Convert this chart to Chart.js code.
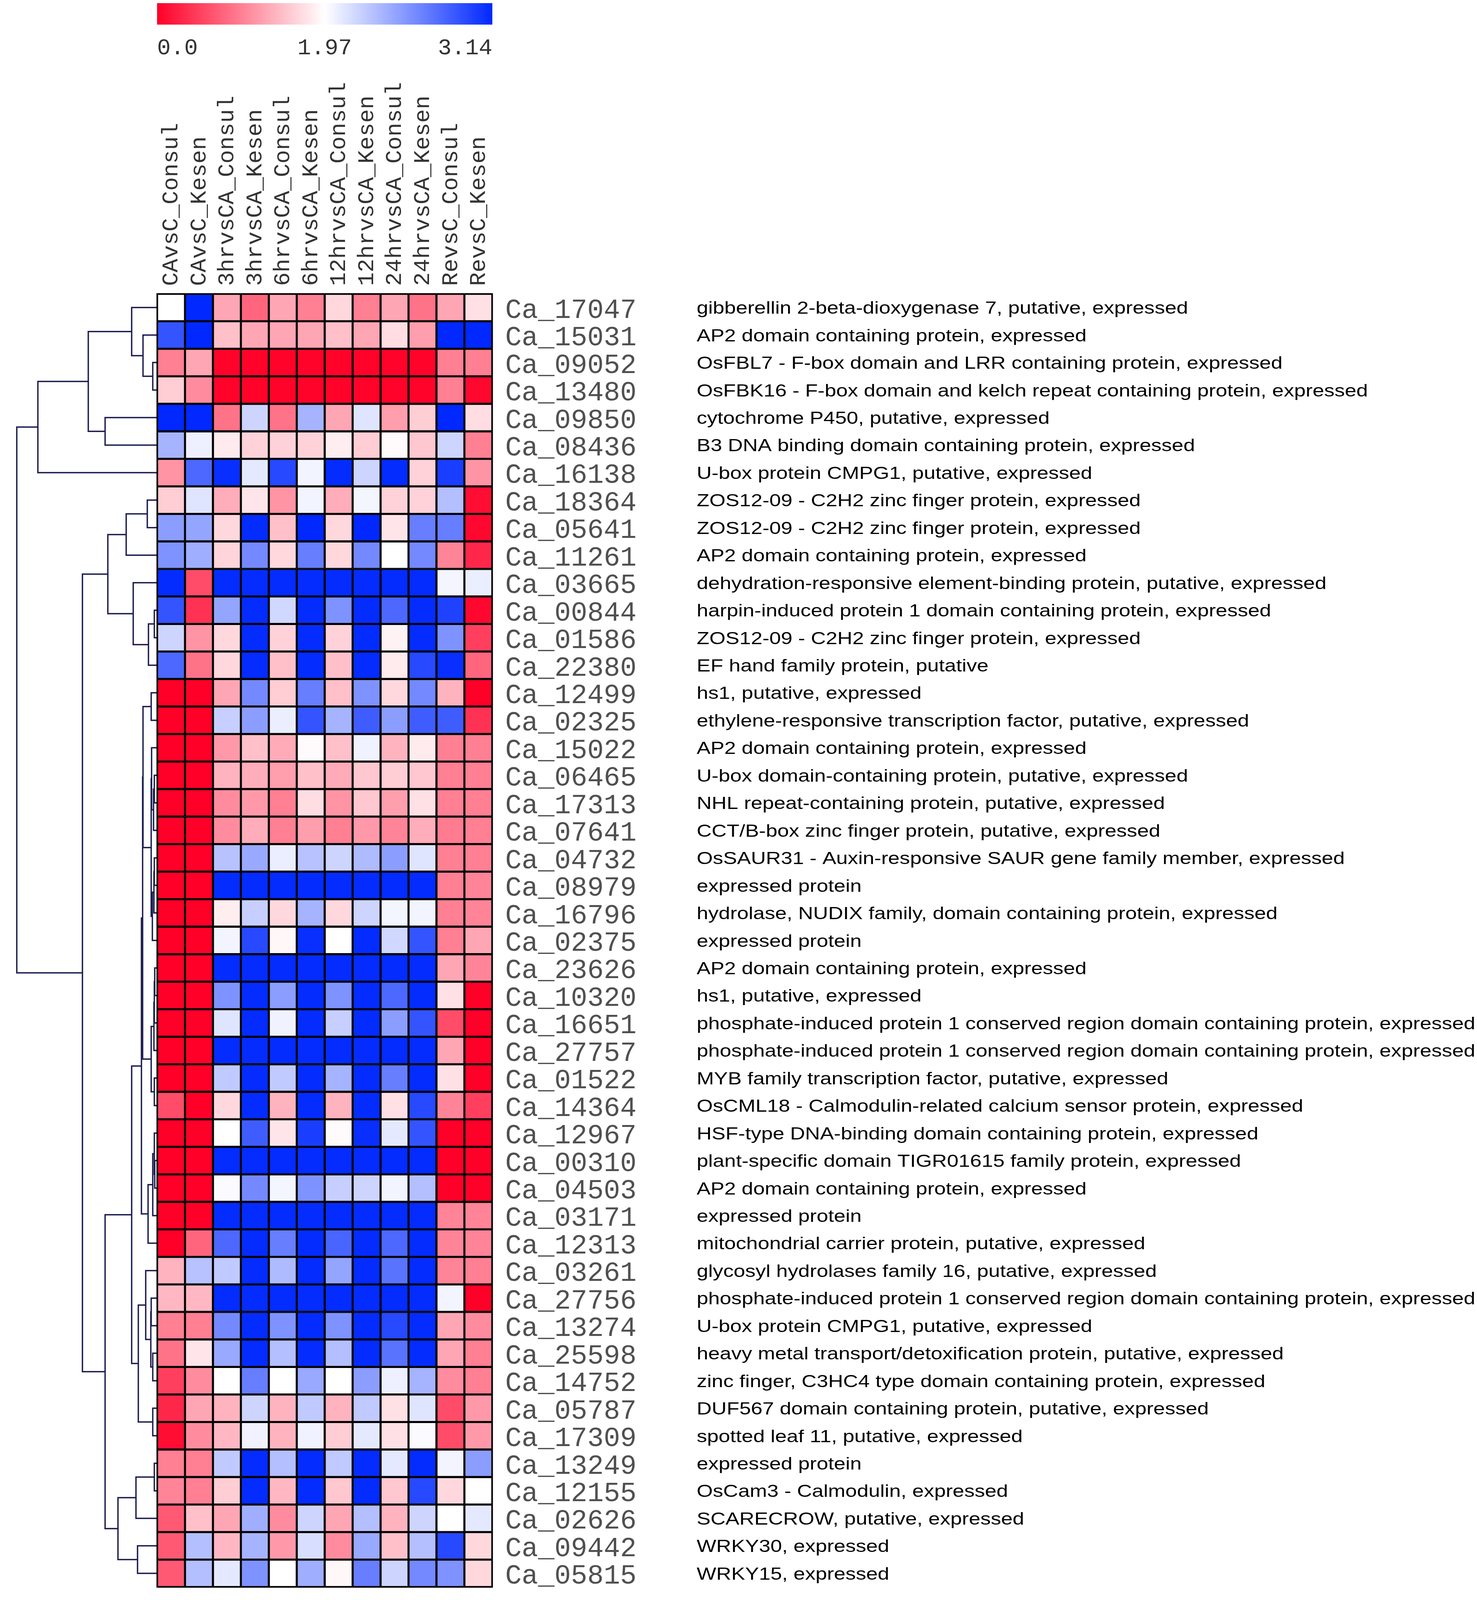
<!DOCTYPE html>
<html>
<head>
<meta charset="utf-8">
<script src="https://cdn.jsdelivr.net/npm/chart.js@4.4.1/dist/chart.umd.min.js"></script>
<style>
html,body{margin:0;padding:0;background:#ffffff;}
canvas{display:block;}
</style>
</head>
<body>
<canvas id="heat" width="3780" height="4138" style="width:3780px;height:4138px"></canvas>
<script>
// ---------------- data ----------------
const columns = ['CAvsC_Consul','CAvsC_Kesen','3hrvsCA_Consul','3hrvsCA_Kesen','6hrvsCA_Consul','6hrvsCA_Kesen',
  '12hrvsCA_Consul','12hrvsCA_Kesen','24hrvsCA_Consul','24hrvsCA_Kesen','RevsC_Consul','RevsC_Kesen'];

const geneIds = ['Ca_17047','Ca_15031','Ca_09052','Ca_13480','Ca_09850','Ca_08436','Ca_16138','Ca_18364','Ca_05641',
  'Ca_11261','Ca_03665','Ca_00844','Ca_01586','Ca_22380','Ca_12499','Ca_02325','Ca_15022','Ca_06465','Ca_17313',
  'Ca_07641','Ca_04732','Ca_08979','Ca_16796','Ca_02375','Ca_23626','Ca_10320','Ca_16651','Ca_27757','Ca_01522',
  'Ca_14364','Ca_12967','Ca_00310','Ca_04503','Ca_03171','Ca_12313','Ca_03261','Ca_27756','Ca_13274','Ca_25598',
  'Ca_14752','Ca_05787','Ca_17309','Ca_13249','Ca_12155','Ca_02626','Ca_09442','Ca_05815'];

const descriptions = [
  'gibberellin 2-beta-dioxygenase 7, putative, expressed',
  'AP2 domain containing protein, expressed',
  'OsFBL7 - F-box domain and LRR containing protein, expressed',
  'OsFBK16 - F-box domain and kelch repeat containing protein, expressed',
  'cytochrome P450, putative, expressed',
  'B3 DNA binding domain containing protein, expressed',
  'U-box protein CMPG1, putative, expressed',
  'ZOS12-09 - C2H2 zinc finger protein, expressed',
  'ZOS12-09 - C2H2 zinc finger protein, expressed',
  'AP2 domain containing protein, expressed',
  'dehydration-responsive element-binding protein, putative, expressed',
  'harpin-induced protein 1 domain containing protein, expressed',
  'ZOS12-09 - C2H2 zinc finger protein, expressed',
  'EF hand family protein, putative',
  'hs1, putative, expressed',
  'ethylene-responsive transcription factor, putative, expressed',
  'AP2 domain containing protein, expressed',
  'U-box domain-containing protein, putative, expressed',
  'NHL repeat-containing protein, putative, expressed',
  'CCT/B-box zinc finger protein, putative, expressed',
  'OsSAUR31 - Auxin-responsive SAUR gene family member, expressed',
  'expressed protein',
  'hydrolase, NUDIX family, domain containing protein, expressed',
  'expressed protein',
  'AP2 domain containing protein, expressed',
  'hs1, putative, expressed',
  'phosphate-induced protein 1 conserved region domain containing protein, expressed',
  'phosphate-induced protein 1 conserved region domain containing protein, expressed',
  'MYB family transcription factor, putative, expressed',
  'OsCML18 - Calmodulin-related calcium sensor protein, expressed',
  'HSF-type DNA-binding domain containing protein, expressed',
  'plant-specific domain TIGR01615 family protein, expressed',
  'AP2 domain containing protein, expressed',
  'expressed protein',
  'mitochondrial carrier protein, putative, expressed',
  'glycosyl hydrolases family 16, putative, expressed',
  'phosphate-induced protein 1 conserved region domain containing protein, expressed',
  'U-box protein CMPG1, putative, expressed',
  'heavy metal transport/detoxification protein, putative, expressed',
  'zinc finger, C3HC4 type domain containing protein, expressed',
  'DUF567 domain containing protein, putative, expressed',
  'spotted leaf 11, putative, expressed',
  'expressed protein',
  'OsCam3 - Calmodulin, expressed',
  'SCARECROW, putative, expressed',
  'WRKY30, expressed',
  'WRKY15, expressed'
];

// one series per column, one value per gene (top to bottom)
const CAvsC_Consul = [1.97,2.90,0.98,1.58,3.14,2.38,1.14,1.58,2.50,2.56,3.12,2.90,2.20,2.79,
  0,0,0,0,0,0,0,0,0,0,0,0,0,0,0,0.59,0,0,0,0,0,
  1.38,1.42,0.98,0.89,0.49,0.30,0.10,0.98,1.02,0.69,0.69,0.69];
const CAvsC_Kesen = [3.14,3.14,1.28,1.08,3.14,2.05,2.79,2.11,2.46,2.41,0.59,0.39,1.14,0.89,
  0,0,0,0,0,0,0,0,0,0,0,0,0,0,0,0,0,0,0,0,0.79,
  2.30,1.42,0.98,1.77,1.08,1.28,1.08,0.98,0.98,1.48,2.32,2.32];
const hr3_Consul = [1.28,1.48,0.02,0.02,0.89,1.81,3.10,1.34,1.67,1.64,3.12,2.46,1.67,1.67,1.28,2.23,1.18,1.38,1.08,1.08,
  2.30,3.12,1.83,2.03,3.12,2.56,2.11,3.12,2.26,1.67,1.97,3.12,1.99,3.12,2.79,2.26,3.12,2.61,2.44,1.97,1.38,1.42,
  2.26,1.58,1.28,1.42,2.09];
const hr3_Kesen = [0.79,1.28,0.02,0.02,2.20,1.62,2.09,1.77,3.12,2.61,3.12,3.12,3.12,3.12,2.61,2.50,1.48,1.34,1.18,1.34,
  2.44,3.12,2.23,2.96,3.12,3.12,3.12,3.12,3.12,3.12,2.85,3.12,2.61,3.12,3.12,3.12,3.12,3.12,3.12,2.67,2.20,2.04,
  3.12,3.12,2.41,2.38,2.56];
const hr6_Consul = [1.28,1.28,0.02,0.02,0.89,1.62,2.96,1.14,1.48,1.67,3.12,2.18,1.62,1.48,1.58,2.06,1.32,1.22,0.98,0.98,
  2.06,3.12,1.67,1.91,3.12,2.50,2.04,3.12,2.26,1.38,1.77,3.12,2.02,3.12,2.67,2.34,3.12,2.56,2.32,1.97,1.38,1.38,
  2.32,1.42,1.08,1.18,1.97];
const hr6_Kesen = [0.98,1.28,0.02,0.02,2.38,1.62,2.03,2.03,3.14,2.67,3.12,3.12,3.12,3.12,2.67,2.90,1.93,1.48,1.71,1.22,
  2.30,3.12,2.38,3.10,3.12,3.12,3.12,3.12,3.12,3.12,3.02,3.12,2.56,3.12,3.12,3.12,3.12,3.12,3.12,2.44,2.26,2.04,
  3.12,3.12,2.20,2.15,2.41];
const hr12_Consul = [1.67,1.48,0.02,0.02,1.28,1.83,3.12,1.34,1.67,1.67,3.12,2.56,1.62,1.48,1.48,2.38,1.48,1.32,1.14,0.98,
  2.20,3.12,1.67,1.97,3.12,2.56,2.23,3.12,2.38,1.38,1.94,3.12,2.23,3.12,2.81,2.46,3.12,2.56,2.32,1.97,1.38,1.58,
  2.26,1.54,1.28,1.08,1.91];
const hr12_Kesen = [0.98,1.28,0.02,0.02,2.11,1.58,2.20,2.02,3.14,2.61,3.12,3.12,3.12,3.12,2.56,2.85,2.04,1.54,1.54,1.18,
  2.34,3.12,2.20,3.12,3.12,3.12,3.12,3.12,3.12,3.12,3.10,3.12,2.20,3.12,3.12,3.12,3.12,3.12,3.12,2.50,2.26,2.09,
  3.12,3.12,2.32,2.44,2.67];
const hr24_Consul = [1.28,1.71,0.02,0.02,1.22,1.93,3.12,1.62,1.77,1.97,3.12,2.79,1.87,1.81,1.67,2.50,1.38,1.58,1.22,1.02,
  2.50,3.12,2.02,2.18,3.12,2.79,2.50,3.12,2.67,1.73,2.09,3.12,2.03,3.12,2.79,2.73,3.12,2.96,2.73,2.05,1.73,1.73,
  2.09,1.54,1.38,1.48,2.20];
const hr24_Kesen = [0.89,1.22,0.02,0.02,1.58,1.54,1.62,1.62,2.67,2.61,3.12,3.12,3.12,2.96,2.61,2.85,1.81,1.54,1.73,1.34,
  2.11,3.12,2.03,2.90,3.12,3.12,2.90,3.12,3.12,2.96,2.90,3.12,2.32,3.12,3.12,3.12,3.12,3.12,3.12,2.38,2.11,1.99,
  3.12,2.96,2.20,2.32,2.61];
const RevsC_Consul = [1.28,3.14,0.98,0.98,3.14,2.20,3.02,2.32,2.67,1.02,2.02,3.00,2.56,3.10,1.38,2.85,0.98,0.98,0.98,0.95,
  0.98,0.98,0.98,0.98,1.28,1.73,0.59,1.28,1.73,1.02,0.00,0.00,0.00,1.02,1.02,1.02,2.03,1.28,1.28,1.08,0.59,0.59,
  2.03,1.67,1.97,2.96,2.56];
const RevsC_Kesen = [1.73,3.14,0.98,0.06,1.71,0.98,1.14,0.10,0.06,0.30,2.06,0.06,0.49,0.79,0.00,0.39,0.98,0.98,0.98,0.98,
  0.98,1.02,1.02,1.28,1.02,0.00,0.00,0.00,0.00,0.49,0.00,0.00,0.00,1.02,1.02,0.98,0.00,1.08,0.98,0.98,1.18,1.18,
  2.50,1.97,2.09,1.67,1.67];

// colour scale
const scaleStops = [0.0, 1.97, 3.14];
const scaleLabels = ['0.0', '1.97', '3.14'];

// row dendrogram: [childA, childB, height]; children < 47 are genes, otherwise node (47 + merge index)
const linkage = [
  [2,3,0.154],[1,47,0.503],[0,48,0.909],[4,5,1.860],[49,50,2.462],[51,6,4.266],
  [7,8,0.350],[53,9,1.105],[11,12,0.098],[55,13,0.308],[10,56,0.853],[54,57,1.762],
  [14,15,0.210],[17,18,0.098],[60,19,0.126],[16,61,0.196],[20,21,0.098],[63,22,0.112],[64,23,0.168],
  [62,65,0.210],[59,66,0.503],[24,25,0.084],[68,26,0.098],[69,27,0.112],[28,29,0.098],[70,71,0.210],
  [67,72,0.517],[31,32,0.084],[30,74,0.098],[75,33,0.154],[76,34,0.322],[73,77,0.559],
  [36,37,0.210],[38,39,0.154],[79,80,0.224],[35,81,0.406],[40,41,0.154],[82,83,0.671],[78,84,0.909],
  [42,43,0.098],[86,44,0.755],[45,46,0.699],[87,88,1.399],[85,89,1.860],[58,90,2.671],[52,91,5.021]
];

// ---------------- chart ----------------
const seriesByColumn = [CAvsC_Consul, CAvsC_Kesen, hr3_Consul, hr3_Kesen, hr6_Consul, hr6_Kesen,
  hr12_Consul, hr12_Kesen, hr24_Consul, hr24_Kesen, RevsC_Consul, RevsC_Kesen];

const RED = [255, 0, 40], BLUE = [0, 40, 255], WHITE = [255, 255, 255];
function mix(a, b, t) { return a.map((v, i) => Math.round(v + (b[i] - v) * t)); }
function cellColor(v) {
  const [lo, mid, hi] = scaleStops;
  let c;
  if (v <= mid) c = mix(WHITE, RED, Math.min(1, (mid - v) / (mid - lo)));
  else c = mix(WHITE, BLUE, Math.min(1, (v - mid) / (hi - mid)));
  return 'rgb(' + c.join(',') + ')';
}

const datasets = seriesByColumn.map((vals, c) => ({
  label: columns[c],
  data: vals.map(() => [c, c + 1]),
  backgroundColor: vals.map(cellColor),
  borderColor: '#000000',
  borderWidth: 3,
  borderSkipped: false,
  grouped: false,
  categoryPercentage: 1,
  barPercentage: 1,
  xAxisID: 'x',
  yAxisID: 'y'
}));

const dendroPlugin = {
  id: 'dendro',
  afterDatasetsDraw(chart) {
    const { ctx, scales: { x, y } } = chart;
    const n = geneIds.length;
    const pos = [];
    for (let i = 0; i < n; i++) pos[i] = { r: i, h: 0 };
    ctx.save();
    ctx.strokeStyle = '#1c1c50';
    ctx.lineWidth = 3.5;
    linkage.forEach(([a, b, h], k) => {
      const A = pos[a], B = pos[b];
      const xp = x.getPixelForValue(-h);
      const ya = y.getPixelForValue(A.r), yb = y.getPixelForValue(B.r);
      ctx.beginPath();
      ctx.moveTo(x.getPixelForValue(-A.h), ya);
      ctx.lineTo(xp, ya);
      ctx.lineTo(xp, yb);
      ctx.lineTo(x.getPixelForValue(-B.h), yb);
      ctx.stroke();
      pos[n + k] = { r: (A.r + B.r) / 2, h: h };
    });
    // outer frame of the heat map
    const x0 = x.getPixelForValue(0), x1 = x.getPixelForValue(columns.length);
    const area = chart.chartArea;
    ctx.strokeStyle = '#000000';
    ctx.lineWidth = 3;
    ctx.strokeRect(x0, area.top, x1 - x0, area.bottom - area.top);
    ctx.restore();
  }
};

// gene descriptions: drawn at the y2 axis tick positions, slightly widened like the original lettering
const descriptionPlugin = {
  id: 'descriptions',
  afterDraw(chart) {
    const { ctx, scales: { y2 } } = chart;
    ctx.save();
    ctx.fillStyle = '#000000';
    ctx.font = '45px "Liberation Sans"';
    ctx.textAlign = 'left';
    ctx.textBaseline = 'alphabetic';
    descriptions.forEach((d, i) => {
      const py = y2.getPixelForTick(i);
      ctx.save();
      ctx.translate(y2.left, py + 16);
      ctx.scale(1.18, 1);
      ctx.fillText(d, 0, 0);
      ctx.restore();
    });
    ctx.restore();
  }
};

const colorBarPlugin = {
  id: 'colorbar',
  afterDraw(chart) {
    const { ctx, scales: { x } } = chart;
    const x0 = x.getPixelForValue(0), x1 = x.getPixelForValue(columns.length);
    const g = ctx.createLinearGradient(x0, 0, x1, 0);
    g.addColorStop(0, 'rgb(255,0,40)');
    g.addColorStop(0.5, '#ffffff');
    g.addColorStop(1, 'rgb(0,40,255)');
    ctx.save();
    ctx.fillStyle = g;
    ctx.fillRect(x0, 8, x1 - x0, 55);
    ctx.fillStyle = '#333333';
    ctx.font = '58px "Liberation Mono"';
    ctx.textBaseline = 'middle';
    ctx.textAlign = 'left';
    ctx.fillText(scaleLabels[0], x0, 124);
    ctx.textAlign = 'center';
    ctx.fillText(scaleLabels[1], (x0 + x1) / 2, 124);
    ctx.textAlign = 'right';
    ctx.fillText(scaleLabels[2], x1, 124);
    ctx.restore();
  }
};

new Chart(document.getElementById('heat'), {
  type: 'bar',
  data: { labels: geneIds, datasets: datasets },
  options: {
    indexAxis: 'y',
    responsive: false,
    devicePixelRatio: 1,
    animation: false,
    layout: { autoPadding: false, padding: { left: 23, right: 0, top: 0, bottom: 18 } },
    plugins: { legend: { display: false }, tooltip: { enabled: false } },
    scales: {
      x: {
        type: 'linear', position: 'top', min: -5.3, max: 12, bounds: 'data',
        grid: { display: false, drawTicks: false }, border: { display: false },
        afterBuildTicks: s => { s.ticks = columns.map((_, i) => ({ value: i + 0.5 })); },
        afterFit: s => { s.height = 752; },
        ticks: {
          autoSkip: false, minRotation: 90, maxRotation: 90, padding: 20, labelOffset: 71,
          color: '#333333', font: { family: 'Liberation Mono', size: 58 },
          callback: (v, i) => columns[i]
        }
      },
      y: {
        type: 'category', position: 'right', offset: true, weight: 0,
        grid: { display: false, drawTicks: false }, border: { display: false },
        afterFit: s => { s.width = 523; },
        ticks: { autoSkip: false, padding: 33, labelOffset: 8, color: '#505050', font: { family: 'Liberation Mono', size: 70 } }
      },
      y2: {
        type: 'category', labels: descriptions, position: 'right', offset: true, weight: 1,
        grid: { display: false, drawTicks: false }, border: { display: false },
        afterFit: s => { s.width = 1997; },
        ticks: { display: false, autoSkip: false }
      }
    }
  },
  plugins: [dendroPlugin, descriptionPlugin, colorBarPlugin]
});
</script>
</body>
</html>
